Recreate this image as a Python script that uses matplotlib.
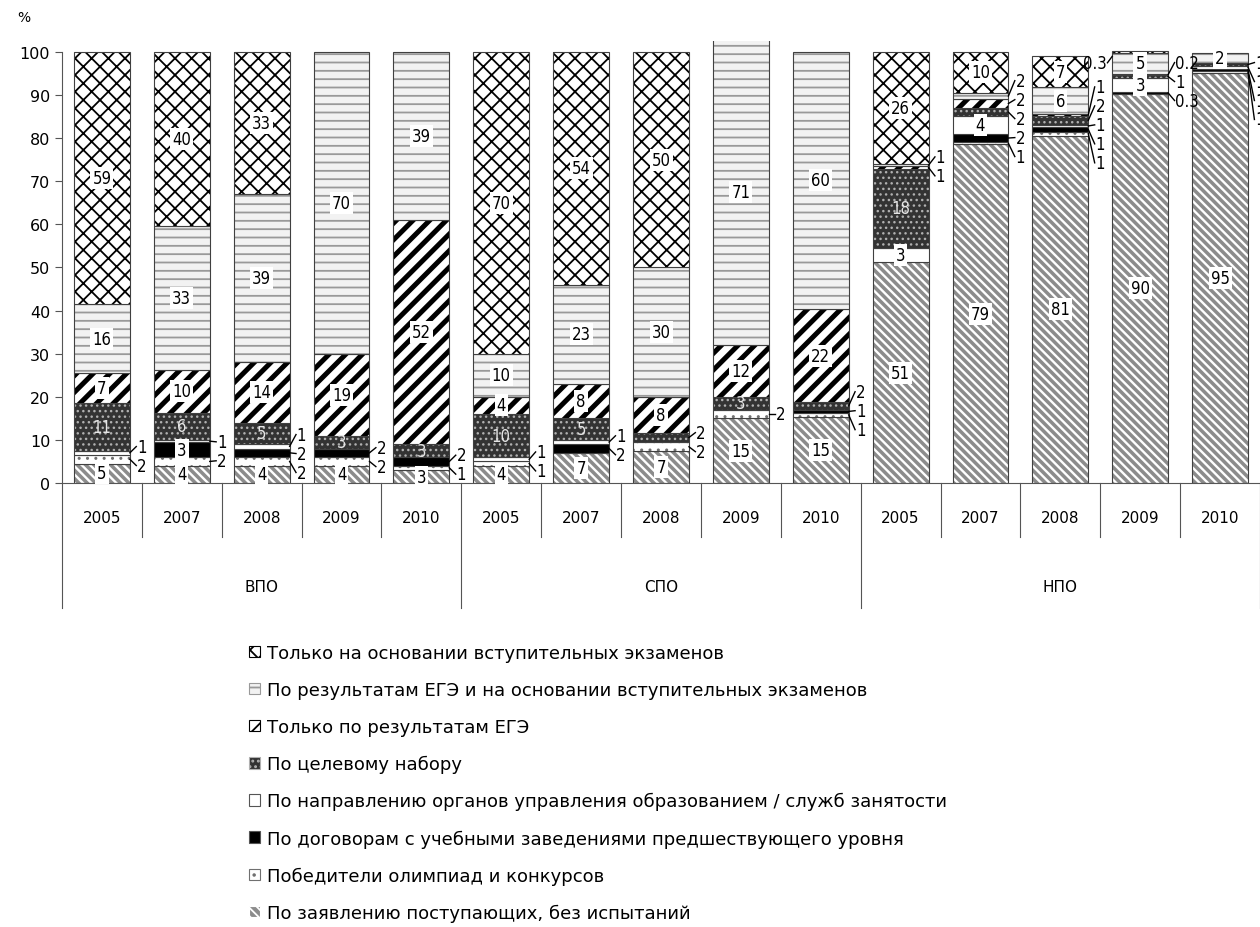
import numpy as np
import matplotlib.pyplot as plt
import matplotlib.transforms as mtransforms
from matplotlib.patches import Patch

groups = ["ВПО", "СПО", "НПО"]
years = ["2005", "2007", "2008", "2009", "2010"]

categories = [
    "По заявлению поступающих, без испытаний",
    "Победители олимпиад и конкурсов",
    "По договорам с учебными заведениями предшествующего уровня",
    "По направлению органов управления образованием / служб занятости",
    "По целевому набору",
    "Только по результатам ЕГЭ",
    "По результатам ЕГЭ и на основании вступительных экзаменов",
    "Только на основании вступительных экзаменов",
]

# 15 bars: ВПО 2005..2010, СПО 2005..2010, НПО 2005..2010 (percent)
zayav    = [4.5, 4, 4, 4, 3,        4, 7, 7.4, 15, 15.4,     51.2, 78.5, 80.5, 90.3, 95]
olimp    = [2, 2, 2, 2, 1,          1, 0, 2, 2, 0.8,         0, 0.5, 1, 0, 0.5]
dogovor  = [0, 3.4, 2, 2, 2,        0, 2, 0, 0, 0.8,         0, 2, 1, 0.3, 0.6]
naprav   = [1, 0.6, 1, 0, 0,        1, 1, 0, 0, 0,           3.4, 4, 0.6, 3.3, 0.6]
celevoy  = [11, 6.3, 5, 3, 3,       10, 5, 2.3, 3, 1.8,      18.3, 2, 2, 0.7, 0.7]
ege      = [7, 10, 14, 19, 52,      4, 8, 8.3, 12, 21.5,     0.5, 2, 0.5, 0.2, 0]
ege_exam = [16, 33.4, 39, 70, 39,   10, 23, 30, 71, 59.7,    0.6, 1.5, 6.2, 5, 2.4]
exam     = [58.5, 40.3, 33, 0, 0,   70, 54, 50, 0, 0,        26, 9.5, 7.2, 0.3, 0]

series = [zayav, olimp, dogovor, naprav, celevoy, ege, ege_exam, exam]

# fill, hatch, hatch colour, hatch width
styles = [
    ("#8c8c8c", "\\\\\\\\", "white", 1.7),
    ("white", "..", "#707070", 1.0),
    ("black", None, "black", 1.0),
    ("white", None, "white", 1.0),
    ("#333333", "...", "#b0b0b0", 1.0),
    ("white", "//", "black", 3.6),
    ("#f2f2f2", "--", "#999999", 1.3),
    ("white", "xx", "black", 1.3),
]

plt.rcParams["font.family"] = ["DejaVu Sans"]
NUM = dict(fontsize=12, fontstretch="condensed")


def label_text(v):
    return str(int(v + 0.5)) if v >= 0.5 else f"{v:.1f}"


fig = plt.figure(figsize=(12.6, 9.28), dpi=100)
ax = fig.add_axes([62 / 1260, 1 - 484 / 928, 1 - 62 / 1260, (484 - 42) / 928])

n = len(zayav)
x = np.arange(n)
width = 0.7
bottom = np.zeros(n)
outside = [[] for _ in range(n)]
top_cat = [max(k for k in range(len(series)) if series[k][i] > 0) for i in range(n)]

for k, (vals, (face, hatch, hc, hlw)) in enumerate(zip(series, styles)):
    vals = np.array(vals, float)
    m = vals > 0
    plt.rcParams["hatch.linewidth"] = hlw
    bars = ax.bar(x[m], vals[m], width, bottom=bottom[m], color=face,
                  edgecolor=hc, hatch=hatch, linewidth=0)
    for b in bars:
        if hasattr(b, "set_hatch_linewidth"):
            b.set_hatch_linewidth(hlw)
    ax.bar(x[m], vals[m], width, bottom=bottom[m], fill=False,
           edgecolor="#404040", linewidth=0.8)

    # data labels
    for i in np.where(m)[0]:
        v = vals[i]
        yc = bottom[i] + v / 2
        if v >= 2.4:
            if k == 4:
                ax.text(x[i], yc, label_text(v), ha="center", va="center",
                        color="#e6e6e6", **NUM)
            else:
                ax.text(x[i], yc, label_text(v), ha="center", va="center",
                        color="black", **NUM,
                        bbox=dict(boxstyle="square,pad=0.12", fc="white", ec="none"))
        else:
            outside[i].append((yc, label_text(v), k == top_cat[i]))
    bottom += vals

# small values: labels beside the bar with leader lines
gap = 4.4
for i in range(n):
    items = sorted(outside[i])
    if not items:
        continue
    left = []
    if len(items) >= 4 and items[-1][2]:
        left = [items.pop()]
    anchors = [a for a, _, _ in items]
    cnt = len(items)
    pos = [np.mean(anchors) + (j - (cnt - 1) / 2) * gap for j in range(cnt)]
    shift = max(0, pos[-1] - 97.5)
    pos = [max(p - shift, 1.5 + j * gap) for j, p in enumerate(pos)]
    x0 = x[i] + width / 2
    for (anchor, txt, _), ly in zip(items, pos):
        ax.plot([x0, x0 + 0.08], [anchor, ly], color="black", lw=1.0, clip_on=False)
        ax.text(x0 + 0.09, ly, txt, ha="left", va="center", clip_on=False, **NUM)
    for anchor, txt, _ in left:
        xl = x[i] - width / 2
        ax.plot([xl, xl - 0.06], [anchor - 1, anchor - 2.5], color="black", lw=1.0)
        ax.text(xl - 0.07, anchor - 2.5, txt, ha="right", va="center", **NUM)

ax.set_xlim(-0.5, n - 0.5)
ax.set_ylim(0, 102.5)
ax.set_yticks(np.arange(0, 101, 10))
ax.tick_params(axis="y", labelsize=11.5, length=5, color="#555555")
ax.set_xticks([])
for s in ["top", "right"]:
    ax.spines[s].set_visible(False)
ax.spines["left"].set_bounds(0, 100)
ax.spines["left"].set_color("#555555")
ax.spines["bottom"].set_color("#555555")
fig.text(17 / 1260, 1 - 18 / 928, "%", fontsize=10, va="center")

# two-level category axis
trans = mtransforms.blended_transform_factory(ax.transData, ax.transAxes)
for i in range(n + 1):
    xb = i - 0.5
    depth = -0.282 if i % len(years) == 0 else -0.122
    ax.plot([xb, xb], [0, depth], transform=trans, color="#555555", lw=0.8, clip_on=False)
for i in range(n):
    ax.text(x[i], -0.077, years[i % len(years)], transform=trans, ha="center",
            va="center", fontsize=11)
for g, name in enumerate(groups):
    xc = g * len(years) + (len(years) - 1) / 2
    ax.text(xc, -0.235, name, transform=trans, ha="center", va="center", fontsize=11)

handles = [Patch(facecolor=st[0], edgecolor=st[2] if st[1] else "#555555",
                 hatch=st[1], linewidth=0.8) for st in styles]
fig.legend(handles[::-1], categories[::-1], loc="upper left",
           bbox_to_anchor=(240 / 1260, 1 - 636 / 928), frameon=False,
           fontsize=13, handlelength=0.6, handleheight=0.6,
           handletextpad=0.4, labelspacing=1.05, borderpad=0)

fig.savefig("out.png", dpi=100)
